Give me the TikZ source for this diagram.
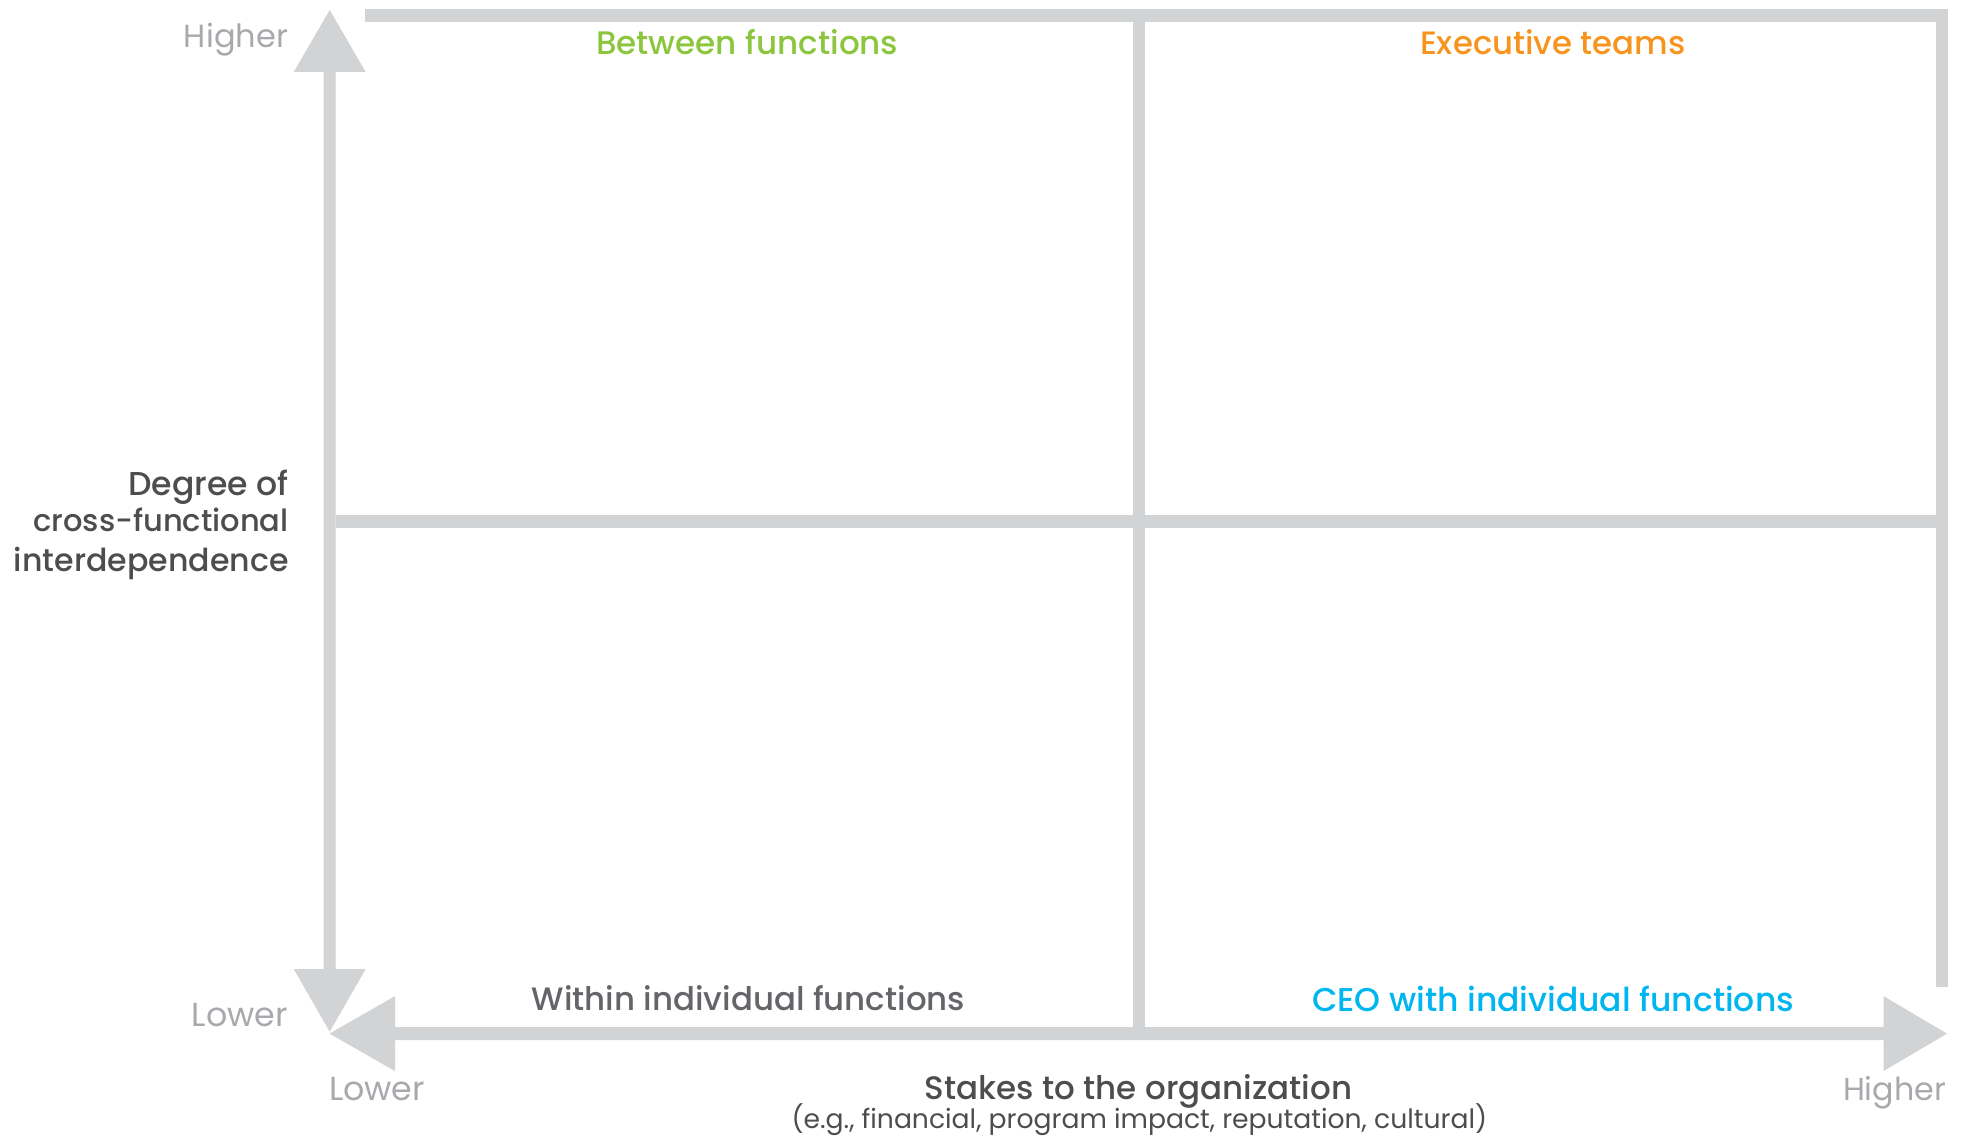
\documentclass[tikz,border=0pt]{standalone}
\usepackage{fontspec}
\usepackage{graphicx}
\setmainfont{Poppins}
\newfontfamily\medfont{Poppins Medium}
\definecolor{axisgray}{HTML}{D1D3D5}
\definecolor{endgray}{HTML}{A7A9AC}
\definecolor{darktext}{HTML}{4D4D4F}
\definecolor{midtext}{HTML}{636569}
\definecolor{qgreen}{HTML}{8CC63F}
\definecolor{qorange}{HTML}{F7941D}
\definecolor{qblue}{HTML}{00B6F0}
\begin{document}
\begin{tikzpicture}[x=1pt,y=-1pt,
  axisshape/.style={fill=axisgray},
  lbl/.style={inner sep=0pt, outer sep=0pt},
  endlbl/.style={lbl, text=endgray},
  quadlbl/.style={lbl, font=\medfont},
  titlelbl/.style={lbl, font=\medfont, text=darktext}]
\useasboundingbox (0,0) rectangle (1963,1137);
% frame and grid
\fill[axisshape] (365,9.5) rectangle (1948,22);
\fill[axisshape] (1936,9.5) rectangle (1948,986.7);
\fill[axisshape] (1132.7,22) rectangle (1145.3,1027.1);
\fill[axisshape] (335.7,515) rectangle (1936,527.7);
% vertical axis with two heads
\fill[axisshape] (329.7,10) -- (365.7,72) -- (335.7,72) -- (335.7,969) -- (365.7,969)
  -- (329.7,1031.7) -- (293.7,969) -- (323.7,969) -- (323.7,72) -- (293.7,72) -- cycle;
% horizontal axis with two heads
\fill[axisshape] (329.5,1033.6) -- (395,996.1) -- (395,1027.1) -- (1883.5,1027.1) -- (1883.5,996.1)
  -- (1947,1033.6) -- (1883.5,1071.1) -- (1883.5,1040.1) -- (395,1040.1) -- (395,1071.1) -- cycle;
% axis end labels
\node[endlbl, anchor=base east] (yhigh) at (288,48) {\resizebox{104pt}{!}{Higher}};
\node[endlbl, anchor=base east] (ylow) at (288,1026.7) {\resizebox{96pt}{!}{Lower}};
\node[endlbl, anchor=base west] (xlow) at (329,1100) {\resizebox{96pt}{!}{Lower}};
\node[endlbl, anchor=base east] (xhigh) at (1946,1100) {\resizebox{103pt}{!}{Higher}};
% quadrant labels
\node[quadlbl, text=qgreen, anchor=base west] (between) at (596,55) {\resizebox{302.3pt}{!}{Between functions}};
\node[quadlbl, text=qorange, anchor=base west] (exec) at (1420,55) {\resizebox{265.6pt}{!}{Executive teams}};
\node[quadlbl, text=midtext, anchor=base west] (within) at (531.7,1010) {\resizebox{433.3pt}{!}{Within individual functions}};
\node[quadlbl, text=qblue, anchor=base west] (ceo) at (1312,1011) {\resizebox{482pt}{!}{CEO with individual functions}};
% axis titles
\node[titlelbl, anchor=base east] (deg1) at (288.7,495) {\resizebox{160.4pt}{!}{Degree of}};
\node[titlelbl, anchor=base east] (deg2) at (288.7,531.7) {\resizebox{255.4pt}{!}{cross-functional}};
\node[titlelbl, anchor=base east] (deg3) at (288.7,571.7) {\resizebox{274.7pt}{!}{interdependence}};
\node[titlelbl, anchor=base west] (stakes) at (924.8,1099) {\resizebox{427.5pt}{!}{Stakes to the organization}};
\node[lbl, text=darktext, anchor=base west] (eg) at (791.5,1128) {\resizebox{695.5pt}{!}{(e.g., financial, program impact, reputation, cultural)}};
\end{tikzpicture}
\end{document}
